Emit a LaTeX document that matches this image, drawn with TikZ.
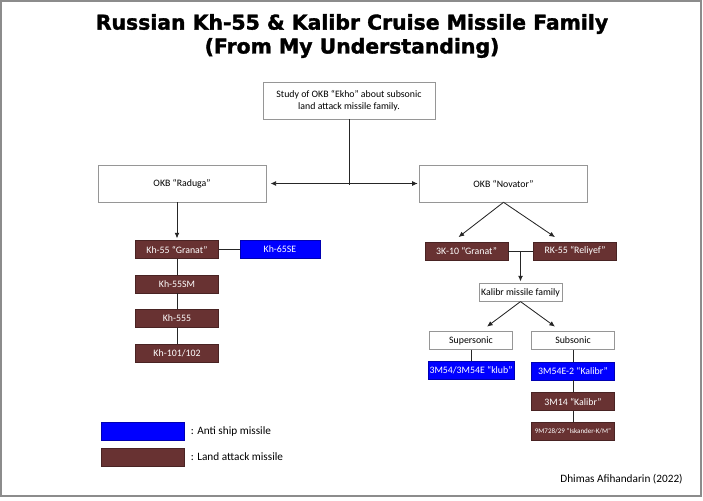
\documentclass[tikz,border=0pt]{standalone}
\usepackage{fontspec}
\setmainfont{Carlito}
\newfontfamily\titlefont[BoldFeatures={FakeBold=1.6}]{DejaVu Sans}
\usetikzlibrary{arrows.meta}

\definecolor{landred}{RGB}{104,50,50}
\definecolor{shipblue}{RGB}{0,0,255}
\definecolor{boxgray}{RGB}{150,150,150}

\tikzset{
  plainbox/.style={draw=boxgray, fill=white, minimum width=4.2cm, minimum height=0.925cm, inner sep=1pt, font=\fontsize{7}{8.5}\selectfont, align=center},
  smallbox/.style={draw=boxgray, fill=white, minimum width=2.075cm, minimum height=0.44cm, inner sep=1pt, font=\fontsize{7}{8}\selectfont},
  landbox/.style={smallbox, draw=landred!70!black, fill=landred, text=white},
  shipbox/.style={smallbox, draw=shipblue!70!black, fill=shipblue, text=white},
  link/.style={draw=black!85, line width=0.6pt},
  arrowlink/.style={link, -{Latex[length=4pt,width=3.5pt]}}
}

\begin{document}
\begin{tikzpicture}[x=0.025cm, y=-0.025cm]
  \useasboundingbox (0,0) rectangle (703,500);
  \draw[draw=black!45, line width=0.8pt] (1,1) rectangle (701,496);

  % title
  \node (title) at (352,36) [align=center, font=\titlefont\bfseries\fontsize{14.5}{17}\selectfont]
    {Russian Kh-55 \& Kalibr Cruise Missile Family\\(From My Understanding)};

  % design bureaus
  \node[plainbox, minimum width=4.3cm] (study) at (349,100.5) {Study of OKB “Ekho” about subsonic\\land attack missile family.};
  \node[plainbox] (raduga) at (182,183.5) {OKB “Raduga”};
  \node[plainbox] (novator) at (503.5,183.5) {OKB “Novator”};
  \coordinate (split) at (349,185);

  % Raduga line
  \node[landbox] (kh55) at (177,249.5) {Kh-55 “Granat”};
  \node[shipbox, minimum width=2cm] (kh65) at (280,249.5) {Kh-65SE};
  \node[landbox] (kh55sm) at (177,284) {Kh-55SM};
  \node[landbox] (kh555) at (177,318.5) {Kh-555};
  \node[landbox] (kh101) at (177,353) {Kh-101/102};

  % Novator line
  \node[landbox] (gr3k) at (466.5,251) {3K-10 “Granat”};
  \node[landbox] (rk55) at (575,251) {RK-55 “Reliyef”};
  \node[smallbox] (kalibr) at (520.5,292.5) {Kalibr missile family};
  \node[smallbox] (super) at (471,340.5) {Supersonic};
  \node[smallbox] (sub) at (573,340.5) {Subsonic};
  \node[shipbox] (klub) at (471,370) {3M54/3M54E “klub”};
  \node[shipbox] (m54e) at (573,371) {3M54E-2 “Kalibr”};
  \node[landbox] (m14) at (573,401.5) {3M14 “Kalibr”};
  \node[landbox, font=\fontsize{5}{6}\selectfont] (isk) at (573,431.5) {9M728/29 “Iskander-K/M”};
  \coordinate (join) at (520.5,251);

  % connectors
  \draw[link] (study.south) -- (split);
  \draw[link, {Latex[length=4pt,width=3.5pt]}-{Latex[length=4pt,width=3.5pt]}, shorten <=3pt, shorten >=1pt] (raduga.east) -- (novator.west);
  \draw[arrowlink] (raduga.south -| kh55.north) -- ([yshift=0.05cm]kh55.north);
  \draw[arrowlink] (novator.south) -- ([xshift=-0.2cm,yshift=0.12cm]gr3k.north);
  \draw[arrowlink] (novator.south) -- ([xshift=-0.5cm,yshift=0.12cm]rk55.north);
  \draw[link] (kh55.east) -- (kh65.west);
  \draw[link] (kh55) -- (kh55sm) -- (kh555) -- (kh101);
  \draw[link] (gr3k.east) -- (rk55.west);
  \draw[arrowlink] (join) -- ([yshift=0.05cm]kalibr.north);
  \draw[arrowlink] (kalibr.south) -- ([xshift=0.4cm,yshift=0.12cm]super.north);
  \draw[arrowlink] (kalibr.south) -- ([xshift=-0.45cm,yshift=0.12cm]sub.north);
  \draw[link] (super) -- (klub);
  \draw[link] (sub) -- (m54e) -- (m14) -- (isk);

  % legend
  \node[shipbox] (keyship) at (142.5,431.5) {};
  \node[landbox] (keyland) at (142.5,457) {};
  \node[anchor=west, font=\fontsize{8}{9}\selectfont] (keyshiptext) at (186,431.5) {: Anti ship missile};
  \node[anchor=west, font=\fontsize{8}{9}\selectfont] (keylandtext) at (186,457) {: Land attack missile};

  \node[font=\fontsize{8}{9}\selectfont] (credit) at (621.5,479) {Dhimas Afihandarin (2022)};
\end{tikzpicture}
\end{document}
